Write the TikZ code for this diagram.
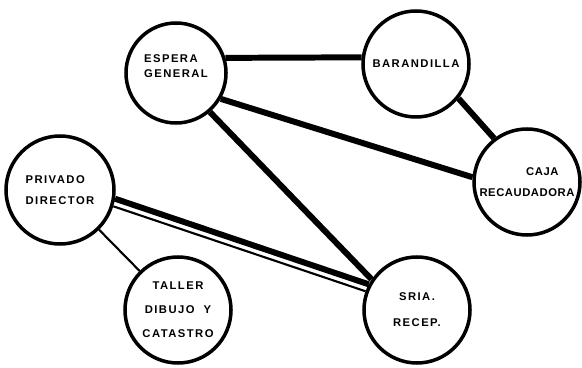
\documentclass[tikz,border=0pt]{standalone}
\usepackage{fontspec}
\newfontfamily\roomfont{Liberation Sans Bold}[LetterSpace=13]

\tikzset{roomnode/.style={circle, draw, line width=5pt, minimum size=53mm, inner sep=0pt, align=center, font=\roomfont\fontsize{16}{24}\selectfont}}
\tikzset{strongline/.style={line width=8.5pt}}
\tikzset{weakline/.style={line width=3pt}}

\begin{document}
\begin{tikzpicture}
		\useasboundingbox (0,0) rectangle (29.1,18.35);

		%rooms
		\node[roomnode, minimum size=50mm, align=left] (esp) at (8.8,14.7) {ESPERA\\[-2pt]GENERAL\\[-4pt]\mbox{}};
		\node[roomnode] (bar) at (20.8,15.15) {BARANDILLA};
		\node[roomnode, align=right, font=\roomfont\addfontfeature{LetterSpace=5}\fontsize{16}{24}\selectfont] (caja) at (26.35,9.25) {CAJA\hspace*{0.8cm}\\[6pt]RECAUDADORA};
		\node[roomnode, minimum size=54mm, align=left] (priv) at (3.0,8.85) {PRIVADO\\[6pt]DIRECTOR};
		\node[roomnode] (tall) at (8.9,2.85) {TALLER\\[10pt]DIBUJO \ Y\\[10pt]CATASTRO};
		\node[roomnode] (sria) at (20.85,2.85) {SRIA.\\[13pt]RECEP.};

		%connections
		\path[strongline] (esp.17) edge (bar.173);
		\path[strongline] (esp.-30) edge (caja.175);
		\path[strongline] (esp.-49) edge (sria.146);
		\path[strongline] (bar.-39) edge (caja.127);

		\path[strongline] (priv.-9) edge (sria.152);
		\path[weakline] (priv.-17) edge (sria.160);
		\path[weakline] (priv) edge (tall);
\end{tikzpicture}
\end{document}
